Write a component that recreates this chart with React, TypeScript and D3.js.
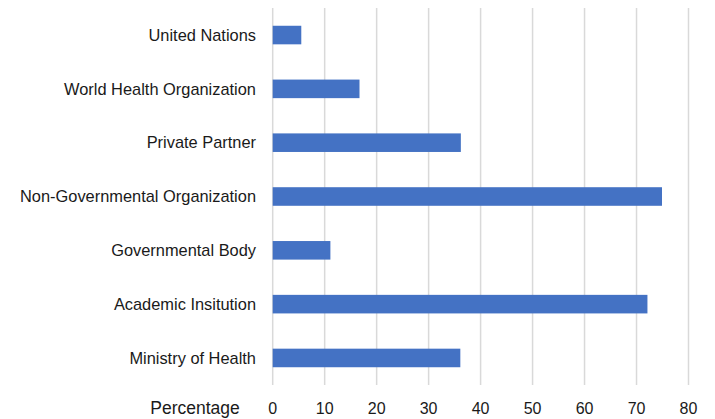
import React, { useEffect, useRef } from "react";
import * as d3 from "d3";

const categories = [
  "United Nations",
  "World Health Organization",
  "Private Partner",
  "Non-Governmental Organization",
  "Governmental Body",
  "Academic Insitution",
  "Ministry of Health",
];
const values = [5.5, 16.7, 36.2, 74.9, 11.1, 72.1, 36.1];
const xTicks = [0, 10, 20, 30, 40, 50, 60, 70, 80];
const axisTitle = "Percentage";

const App = () => {
  const ref = useRef<SVGSVGElement | null>(null);

  useEffect(() => {
    const width = 715;
    const height = 419;
    const margin = { top: 8, right: 28, bottom: 34, left: 272.7 };
    const font = "'Liberation Sans', Arial, sans-serif";

    const svg = d3.select(ref.current);
    svg.selectAll("*").remove();

    const x = d3
      .scaleLinear()
      .domain([0, 80])
      .range([margin.left, 688.5]);
    const y = d3
      .scaleBand()
      .domain(categories)
      .range([margin.top, height - margin.bottom])
      .paddingInner(0.655)
      .paddingOuter(0.33);

    // gridlines
    svg
      .append("g")
      .selectAll("line")
      .data(xTicks)
      .enter()
      .append("line")
      .attr("x1", (d) => x(d))
      .attr("x2", (d) => x(d))
      .attr("y1", margin.top)
      .attr("y2", height - margin.bottom)
      .attr("stroke", "#d9d9d9")
      .attr("stroke-width", 1.5);

    svg
      .append("g")
      .selectAll("rect")
      .data(values)
      .enter()
      .append("rect")
      .attr("x", x(0))
      .attr("y", (d, i) => y(categories[i]) as number)
      .attr("width", (d) => x(d) - x(0))
      .attr("height", y.bandwidth())
      .attr("fill", "#4472c4");

    svg
      .append("g")
      .selectAll("text")
      .data(categories)
      .enter()
      .append("text")
      .attr("x", 256)
      .attr("y", (d) => (y(d) as number) + y.bandwidth() / 2)
      .attr("dy", "0.35em")
      .attr("text-anchor", "end")
      .attr("font-family", font)
      .attr("font-size", 16.4)
      .attr("fill", "#1a1a1a")
      .text((d) => d);

    svg
      .append("g")
      .selectAll("text")
      .data(xTicks)
      .enter()
      .append("text")
      .attr("x", (d) => x(d))
      .attr("y", 414)
      .attr("text-anchor", "middle")
      .attr("font-family", font)
      .attr("font-size", 16)
      .attr("fill", "#1a1a1a")
      .text((d) => d);

    svg
      .append("text")
      .attr("x", 195)
      .attr("y", 414)
      .attr("text-anchor", "middle")
      .attr("font-family", font)
      .attr("font-size", 17.5)
      .attr("fill", "#1a1a1a")
      .text(axisTitle);
  }, []);

  return (
    <svg
      ref={ref}
      width={715}
      height={419}
      style={{ position: "absolute", left: 0, top: 0, background: "#fff" }}
    />
  );
};

export default App;
